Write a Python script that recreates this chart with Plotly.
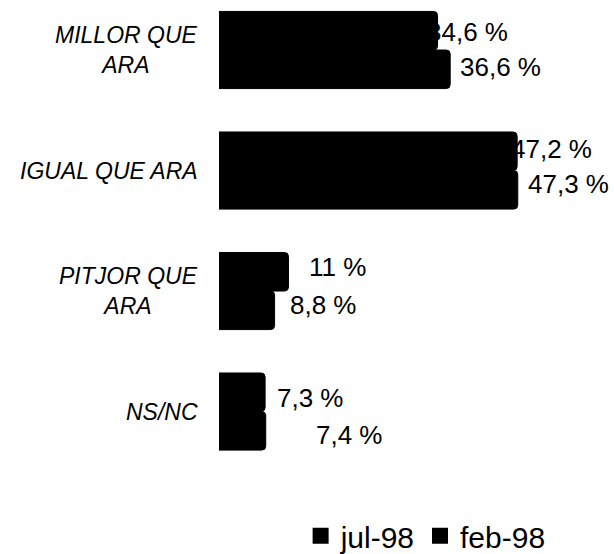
import plotly.graph_objects as go

categories = ["MILLOR QUE<br>ARA", "IGUAL QUE ARA", "PITJOR QUE<br>ARA", "NS/NC"]
jul98 = [34.6, 47.2, 11.0, 7.3]
feb98 = [36.6, 47.3, 8.8, 7.4]
series_names = ["jul-98", "feb-98"]

FONT = "Liberation Sans, Arial"

def fmt(v):
    s = ("%.1f" % v).replace(".", ",")
    if s.endswith(",0"):
        s = s[:-2]
    return s + " %"

fig = go.Figure()
for name, vals in zip(series_names, [jul98, feb98]):
    fig.add_trace(go.Bar(
        y=categories, x=vals, name=name, orientation="h", showlegend=False,
        marker=dict(color="black", line=dict(width=1, color="black"), cornerradius=4),
        hoverinfo="skip",
    ))
# legend entries (square swatches)
for name in series_names:
    fig.add_trace(go.Scatter(
        x=[None], y=[None], name=name, mode="markers",
        marker=dict(symbol="square", size=20, color="black"),
    ))

# value labels (pixel shifts reproduce the original placement)
jul_xshift = [-13, -8, 19, 10]
jul_yshift = [18, 22, 24, 14]
feb_xshift = [8, 8, 13, 48]
feb_yshift = [-17, -13, -14, -23]
font_lbl = dict(family=FONT, size=26, color="black")
for i, cat in enumerate(categories):
    fig.add_annotation(x=jul98[i], y=cat, text=fmt(jul98[i]), showarrow=False,
                       xanchor="left", yanchor="middle",
                       xshift=jul_xshift[i], yshift=jul_yshift[i], font=font_lbl)
    fig.add_annotation(x=feb98[i], y=cat, text=fmt(feb98[i]), showarrow=False,
                       xanchor="left", yanchor="middle",
                       xshift=feb_xshift[i], yshift=feb_yshift[i], font=font_lbl)
    # category label, centered multi-line, italic
    fig.add_annotation(x=0, xref="paper", y=cat, yref="y", text=cat,
                       showarrow=False, xanchor="right", yanchor="middle",
                       align="center", xshift=-19,
                       font=dict(family=FONT, size=23, color="black", style="italic"))

fig.update_layout(
    width=614, height=554,
    margin=dict(l=219, r=16, t=0, b=84, autoexpand=False),
    paper_bgcolor="white", plot_bgcolor="white",
    barmode="group", bargap=0.36, bargroupgap=0,
    font=dict(family=FONT, color="black"),
    showlegend=True,
    legend=dict(orientation="h", x=0.875, xanchor="right", y=-0.140, yanchor="middle",
                font=dict(size=30, color="black"), itemwidth=30,
                traceorder="normal", itemsizing="trace", bgcolor="rgba(0,0,0,0)"),
    xaxis=dict(range=[0, 60], visible=False, showgrid=False, zeroline=False),
    yaxis=dict(range=[3.485, -0.415], showgrid=False, zeroline=False, showline=False,
               ticks="", showticklabels=False),
)

fig.write_html("out.html", config={"displayModeBar": False},
               post_script="document.body.style.margin='0';document.body.style.overflow='hidden';")
